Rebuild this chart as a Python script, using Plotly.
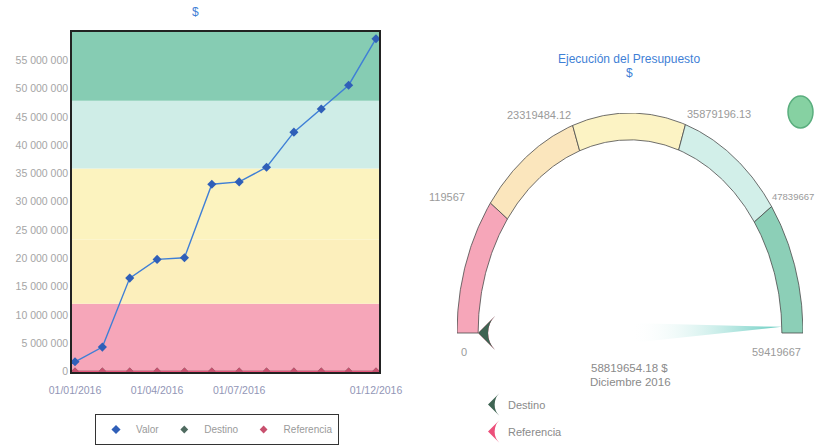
"""
Ejecución del presupuesto: evolución mensual y velocímetro
"""
import numpy as np
import plotly.graph_objects as go

# ---- datos ----
meses = ['01/01/2016', '01/02/2016', '01/03/2016', '01/04/2016', '01/05/2016', '01/06/2016',
         '01/07/2016', '01/08/2016', '01/09/2016', '01/10/2016', '01/11/2016', '01/12/2016']
valor = [1700000, 4300000, 16500000, 19800000, 20100000, 33100000,
         33500000, 36100000, 42300000, 46400000, 50600000, 58819654.18]
destino = [0] * 12
referencia = [0] * 12
meses_ticks = ['01/01/2016', '01/04/2016', '01/07/2016', '01/12/2016']
y_ticks = [0, 5000000, 10000000, 15000000, 20000000, 25000000,
           30000000, 35000000, 40000000, 45000000, 50000000, 55000000]

limites = [0, 11956733, 23319484.12, 35879196.13, 47839667, 59419667]
etiquetas_limites = ['0', '119567', '23319484.12', '35879196.13', '47839667', '59419667']
colores_gauge = ['#f6a6b9', '#fbe6bd', '#fcf3c4', '#d2efe9', '#8ccfb7']
colores_fondo = ['#f6a6b9', '#fcefbc', '#fcf3bf', '#cfede7', '#86ccb3']

valor_actual = 58819654.18
destino_actual = 0
referencia_actual = 0
texto_valor = '58819654.18 $'
texto_periodo = 'Diciembre 2016'

W, H = 818, 445
y_max = 60000000
vmax = limites[-1]
r_in, r_out = 0.878, 1.0


def px_x(p):
    return p / W


def px_y(p):
    return (H - p) / H


def angulo(v):
    return np.pi * (1 - v / vmax)


fig = go.Figure()

# ---- gráfico de líneas ----
series = [('Valor', valor, '#3f7fd6', '#2f5fb8', 7),
          ('Destino', destino, '#4f6b60', '#4f6b60', 6),
          ('Referencia', referencia, '#e8577c', '#c8506e', 6)]
for nombre, datos, c_linea, c_marca, tam in series:
    fig.add_trace(go.Scatter(
        x=meses, y=datos, mode='lines', line=dict(color=c_linea, width=1.4),
        showlegend=False, hoverinfo='skip'
    ))
    fig.add_trace(go.Scatter(
        x=meses, y=datos, name=nombre, mode='markers',
        marker=dict(symbol='diamond', size=tam, color=c_marca),
        legend='legend'
    ))

# bandas de fondo
for i, c in enumerate(colores_fondo):
    y1 = limites[i + 1] if i < len(colores_fondo) - 1 else y_max
    fig.add_shape(type='rect', xref='x domain', yref='y', x0=0, x1=1,
                  y0=limites[i], y1=y1, fillcolor=c, line_width=0, layer='below')

# ---- velocímetro ----
for i, c in enumerate(colores_gauge):
    t = np.linspace(angulo(limites[i]), angulo(limites[i + 1]), 80)
    xs = np.concatenate([r_out * np.cos(t), r_in * np.cos(t[::-1]), [r_out * np.cos(t[0])]])
    ys = np.concatenate([r_out * np.sin(t), r_in * np.sin(t[::-1]), [r_out * np.sin(t[0])]])
    fig.add_trace(go.Scatter(
        x=xs, y=ys, xaxis='x2', yaxis='y2', mode='lines', fill='toself',
        fillcolor=c, line=dict(color='#4a4a4a', width=0.8),
        hoverinfo='skip', showlegend=False
    ))

# aguja
th = angulo(valor_actual)
w = 0.045
aguja_x = [-np.sin(th) * w, r_in * np.cos(th), np.sin(th) * w, -np.sin(th) * w]
aguja_y = [np.cos(th) * w, r_in * np.sin(th), -np.cos(th) * w, np.cos(th) * w]
fig.add_trace(go.Scatter(
    x=aguja_x, y=aguja_y, xaxis='x2', yaxis='y2', mode='lines', fill='toself',
    line=dict(width=0, color='rgba(0,0,0,0)'),
    fillgradient=dict(type='horizontal',
                      colorscale=[[0, 'rgba(255,255,255,0)'], [1, '#63cbbf']]),
    hoverinfo='skip', showlegend=False
))

# marcadores de destino y referencia
for nombre, v, color, rango in [('Referencia', referencia_actual, '#ec4f7a', 2),
                                ('Destino', destino_actual, '#3f6453', 1)]:
    fig.add_trace(go.Scatter(
        x=[r_in * np.cos(angulo(v))], y=[r_in * np.sin(angulo(v))],
        xaxis='x2', yaxis='y2', mode='markers', name=nombre, legendgroup=nombre,
        legendrank=rango,
        marker=dict(symbol='arrow-wide', angle=-90, size=24, color=color),
        cliponaxis=False, legend='legend2'
    ))

# etiquetas de los límites
for v, txt in zip(limites, etiquetas_limites):
    a = angulo(v)
    c, s = np.cos(a), np.sin(a)
    tam, dx = 11, 0
    if v == 0:
        x, y, xa, ya = -0.96, -0.085, 'center', 'middle'
    elif v == vmax:
        x, y, xa, ya = 1.0, -0.085, 'right', 'middle'
    elif s > 0.8:
        x, y, xa, ya = c, s + 0.01, ('right' if c < 0 else 'left'), 'bottom'
    elif c < 0:
        x, y, xa, ya = c * 1.17, s * 1.1 - 0.03, 'right', 'middle'
    else:
        x, y, xa, ya, tam, dx = 1.0, s * 1.1 - 0.01, 'right', 'middle', 9.5, 13
    fig.add_annotation(x=x, y=y, xref='x2', yref='y2', text=txt, showarrow=False,
                       xanchor=xa, yanchor=ya, xshift=dx,
                       font=dict(size=tam, color='#9a9a9a'))

fig.add_annotation(x=px_x(629), y=px_y(368), xref='paper', yref='paper', text=texto_valor,
                   showarrow=False, xanchor='center', yanchor='middle',
                   font=dict(size=11.5, color='#8a8a8a'))
fig.add_annotation(x=px_x(630), y=px_y(382), xref='paper', yref='paper', text=texto_periodo,
                   showarrow=False, xanchor='center', yanchor='middle',
                   font=dict(size=11.5, color='#8a8a8a'))

# títulos
fig.add_annotation(x=px_x(195), y=px_y(12), xref='paper', yref='paper', text='$',
                   showarrow=False, xanchor='center', yanchor='middle',
                   font=dict(size=12, color='#3f7fd6'))
fig.add_annotation(x=px_x(629), y=px_y(59), xref='paper', yref='paper',
                   text='Ejecución del Presupuesto', showarrow=False,
                   xanchor='center', yanchor='middle', font=dict(size=12, color='#3f7fd6'))
fig.add_annotation(x=px_x(629), y=px_y(73), xref='paper', yref='paper', text='$',
                   showarrow=False, xanchor='center', yanchor='middle',
                   font=dict(size=12, color='#3f7fd6'))

# indicador de estado
fig.add_shape(type='circle', xref='paper', yref='paper',
              x0=px_x(788), x1=px_x(813), y0=px_y(128), y1=px_y(96),
              fillcolor='#86d1a2', line=dict(color='#5aae7e', width=1.5))

fig.update_layout(
    width=W, height=H,
    margin=dict(l=0, r=0, t=0, b=0, autoexpand=False),
    paper_bgcolor='white', plot_bgcolor='white',
    font=dict(family='Liberation Sans, Arial, sans-serif', size=10, color='#999'),
    separators='. ',
    hovermode='closest',
    xaxis=dict(domain=[px_x(72), px_x(379)], type='category', range=[-0.11, 11.11],
               tickvals=meses_ticks, ticktext=meses_ticks, automargin=False,
               tickfont=dict(size=10.5, color='#9296b6'), ticklabelstandoff=8,
               showgrid=False, zeroline=False, showline=True, mirror=True,
               linecolor='#222', linewidth=1.5, ticks=''),
    yaxis=dict(domain=[px_y(372), px_y(32)], range=[-100000, y_max], automargin=False,
               tickvals=y_ticks, tickformat=',d', tickfont=dict(size=10.5, color='#a5a5a5'),
               showgrid=False, zeroline=False, showline=True, mirror=True,
               linecolor='#222', linewidth=1.5, ticks=''),
    xaxis2=dict(domain=[px_x(457), px_x(803)], range=[-1, 1], visible=False,
                fixedrange=True, automargin=False),
    yaxis2=dict(domain=[px_y(355), px_y(113)], range=[-0.1, 1], visible=False,
                fixedrange=True, automargin=False),
    legend=dict(orientation='h', x=px_x(95), y=px_y(414), xanchor='left', yanchor='top',
                bordercolor='#333', borderwidth=1, font=dict(size=10, color='#9a9a9a'),
                bgcolor='white', itemwidth=30),
    legend2=dict(orientation='v', x=px_x(468), y=px_y(390), xanchor='left', yanchor='top',
                 font=dict(size=11, color='#8a8a8a'), bgcolor='rgba(0,0,0,0)',
                 traceorder='grouped', tracegroupgap=8, itemwidth=30),
)

fig.write_html("out.html", config={'displayModeBar': False},
               post_script="document.body.style.margin='0px';")
